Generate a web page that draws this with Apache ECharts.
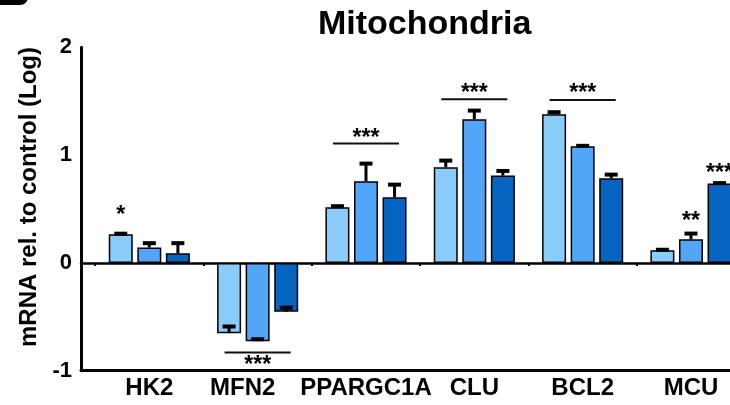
<!DOCTYPE html>
<html>
<head>
<meta charset="utf-8">
<script src="https://cdn.jsdelivr.net/npm/echarts@6/dist/echarts.min.js"></script>
<style>
html,body{margin:0;padding:0;background:#fff;overflow:hidden;}
#chart{width:760px;height:405px;}
</style>
</head>
<body>
<div id="chart"></div>
<script>
// ---- data ----
const categories = ['HK2', 'MFN2', 'PPARGC1A', 'CLU', 'BCL2', 'MCU'];
const group1 = [0.266, -0.652, 0.517, 0.888, 1.379, 0.118];
const err1   = [0.005, 0.062, 0.009, 0.061, 0.019, 0.004];
const group2 = [0.142, -0.726, 0.758, 1.333, 1.083, 0.220];
const err2   = [0.041, 0.018, 0.163, 0.080, 0.003, 0.052];
const group3 = [0.090, -0.452, 0.609, 0.810, 0.786, 0.736];
const err3   = [0.093, 0.037, 0.117, 0.043, 0.033, 0.004];
const yTicks = [-1, 0, 1, 2];

// significance bars spanning a whole gene group
const sigLineCats  = ['MFN2', 'PPARGC1A', 'CLU', 'BCL2'];
const sigLineY     = [-0.832, 1.107, 1.519, 1.512];
const sigLineStarY = [-0.909, 1.197, 1.614, 1.614];
const sigLineText  = ['***', '***', '***', '***'];
// significance marks above single bars
const starCats = ['HK2', 'MCU', 'MCU'];
const starBars = [0, 1, 2];
const starY    = [0.482, 0.430, 0.872];
const starText = ['*', '**', '***'];

// ---- layout / style ----
const colors = ['#89CCF9', '#51A6F7', '#0665C0'];
const BAR_W = 24, BAR_GAP = 0.19;
const barStep = BAR_W * (1 + BAR_GAP);
const FONT = 'Liberation Sans, Arial, Helvetica, sans-serif';
const STAR_FONT = 'bold 23px ' + FONT;
const groups = [group1, group2, group3];
const errs = [err1, err2, err3];

const errData = [];
groups.forEach((g, b) => g.forEach((v, i) => errData.push([i, v, errs[b][i], b])));

const lineData = sigLineCats.map((c, k) => [categories.indexOf(c), sigLineY[k], sigLineStarY[k], sigLineText[k]]);
const starData = starCats.map((c, k) => [categories.indexOf(c), starY[k], starBars[k], starText[k]]);

const chart = echarts.init(document.getElementById('chart'), null, {renderer: 'canvas'});

// canvas is 760 wide, only 730 visible (the plot runs off the right edge as in the original)
const TOP = 47.3, BOTTOM = 34.3;
const labelStyle = {fontFamily: FONT, fontWeight: 'bold', fontSize: 24, color: '#000'};

const option = {
  animation: false,
  backgroundColor: '#fff',
  title: {
    text: 'Mitochondria',
    left: 313, top: 3,
    textStyle: {fontFamily: FONT, fontWeight: 'bold', fontSize: 34, color: '#000'}
  },
  graphic: [{
    type: 'rect', shape: {x: -12, y: -20, width: 40, height: 25, r: 8},
    style: {fill: '#000'}
  }],
  grid: [
    {left: 81, right: 30, top: TOP, bottom: BOTTOM, outerBoundsMode: 'none'},
    {left: 95.15, right: 14.85, top: TOP, bottom: BOTTOM, outerBoundsMode: 'none'}
  ],
  xAxis: [
    {type: 'value', gridIndex: 0, min: 0, max: 1, position: 'bottom',
     axisLine: {show: true, onZero: false, lineStyle: {color: '#000', width: 3}},
     axisTick: {show: false}, axisLabel: {show: false}, splitLine: {show: false}},
    {type: 'value', gridIndex: 0, min: 0, max: 1, position: 'top',
     axisLine: {show: true, onZero: true, lineStyle: {color: '#000', width: 2.5}},
     axisTick: {show: false}, axisLabel: {show: false}, splitLine: {show: false}},
    {type: 'category', gridIndex: 1, data: categories, position: 'bottom',
     axisLine: {show: false, onZero: true},
     axisTick: {show: true, inside: false, length: 3, lineStyle: {color: '#000', width: 2}},
     axisLabel: {show: false}, splitLine: {show: false}},
    {type: 'category', gridIndex: 1, data: categories, position: 'bottom',
     axisLine: {show: false, onZero: false}, axisTick: {show: false},
     axisLabel: Object.assign({show: true, interval: 0, margin: 6,
       formatter: v => (v === 'MFN2' ? '{s|' + v + '}' : v),
       rich: {s: Object.assign({padding: [0, 30, 0, 0]}, labelStyle)}}, labelStyle),
     splitLine: {show: false}}
  ],
  yAxis: [
    {type: 'value', gridIndex: 0, min: -1, max: 2, interval: 1,
     name: 'mRNA rel. to control (Log)', nameLocation: 'middle', nameGap: 35,
     nameTextStyle: {fontFamily: FONT, fontWeight: 'bold', fontSize: 24, color: '#000', padding: [0, 0, 0, 24]},
     axisLine: {show: true, lineStyle: {color: '#000', width: 3}},
     axisTick: {show: false},
     axisLabel: {margin: 9, color: '#000', fontFamily: FONT, fontWeight: 'bold', fontSize: 22,
                 formatter: v => (yTicks.indexOf(v) >= 0 ? String(v) : '')},
     splitLine: {show: false}},
    {type: 'value', gridIndex: 1, min: -1, max: 2, show: false, splitLine: {show: false}}
  ],
  series: [
    ...groups.map((g, b) => ({
      type: 'bar', xAxisIndex: 2, yAxisIndex: 1, data: g,
      barWidth: BAR_W, barGap: (BAR_GAP * 100) + '%',
      itemStyle: {color: colors[b], borderColor: '#000', borderWidth: 1.5},
      z: 2
    })),
    {
      type: 'custom', xAxisIndex: 2, yAxisIndex: 1, data: errData, z: 5,
      renderItem: function (params, api) {
        const b = api.value(3);
        const dx = (b - 1) * barStep;
        const p0 = api.coord([api.value(0), api.value(1)]);
        const p1 = api.coord([api.value(0), api.value(1) + api.value(2)]);
        const x = p0[0] + dx;
        const yTop = Math.min(p0[1], p1[1]), yBot = Math.max(p0[1], p1[1]);
        return {type: 'group', children: [
          {type: 'rect', shape: {x: x - 1.5, y: yTop, width: 3, height: yBot - yTop}, style: {fill: '#000'}},
          {type: 'rect', shape: {x: x - 6.5, y: p1[1] - 2, width: 13, height: 4}, style: {fill: '#000'}}
        ]};
      }
    },
    {
      type: 'custom', xAxisIndex: 2, yAxisIndex: 1, data: lineData, z: 5,
      renderItem: function (params, api) {
        const c = api.coord([api.value(0), api.value(1)]);
        const s = api.coord([api.value(0), api.value(2)]);
        const half = api.size([1, 0])[0] * 0.305;
        return {type: 'group', children: [
          {type: 'line', shape: {x1: c[0] - half, y1: c[1], x2: c[0] + half, y2: c[1]},
           style: {stroke: '#111', lineWidth: 2}},
          {type: 'text', style: {x: c[0], y: s[1] + 5, text: lineData[params.dataIndex][3],
            fill: '#000', font: STAR_FONT, textAlign: 'center', textVerticalAlign: 'middle'}}
        ]};
      }
    },
    {
      type: 'custom', xAxisIndex: 2, yAxisIndex: 1, data: starData, z: 5,
      renderItem: function (params, api) {
        const c = api.coord([api.value(0), api.value(1)]);
        const dx = (api.value(2) - 1) * barStep;
        return {type: 'text', style: {x: c[0] + dx, y: c[1] + 5, text: starData[params.dataIndex][3],
          fill: '#000', font: STAR_FONT, textAlign: 'center', textVerticalAlign: 'middle'}};
      }
    }
  ]
};
chart.setOption(option);
</script>
</body>
</html>
